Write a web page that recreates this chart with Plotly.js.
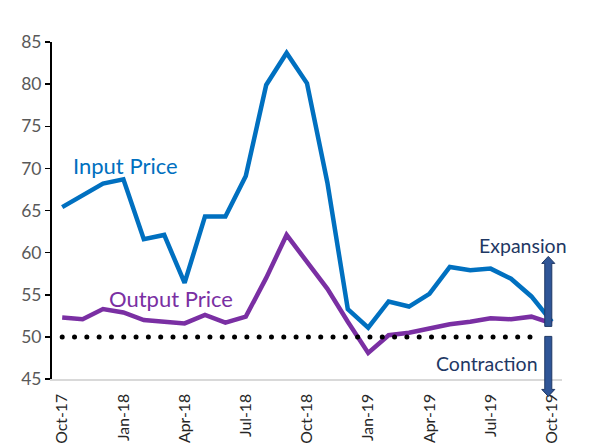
<!DOCTYPE html>
<html>
<head>
<meta charset="utf-8">
<script src="https://cdn.plot.ly/plotly-3.0.1.min.js"></script>
<style>
  html, body { margin: 0; padding: 0; background: #fff; }
  #chart { width: 593px; height: 443px; }
</style>
</head>
<body>
<div id="chart"></div>
<script>
// ---- Data ----
var months = ['Oct-17','Nov-17','Dec-17','Jan-18','Feb-18','Mar-18','Apr-18','May-18','Jun-18','Jul-18','Aug-18','Sep-18',
              'Oct-18','Nov-18','Dec-18','Jan-19','Feb-19','Mar-19','Apr-19','May-19','Jun-19','Jul-19','Aug-19','Sep-19','Oct-19'];
var inputPrice  = [65.4, 66.8, 68.2, 68.7, 61.6, 62.1, 56.4, 64.3, 64.3, 69.1, 79.9, 83.7,
                   80.1, 68.3, 53.3, 51.1, 54.2, 53.6, 55.1, 58.3, 57.9, 58.1, 56.9, 54.8, 51.8];
var outputPrice = [52.3, 52.1, 53.3, 52.9, 52.0, 51.8, 51.6, 52.6, 51.7, 52.4, 57.0, 62.1,
                   58.8, 55.7, 51.8, 48.1, 50.2, 50.5, 51.0, 51.5, 51.8, 52.2, 52.1, 52.4, 51.6];
var tickMonths = ['Oct-17','Jan-18','Apr-18','Jul-18','Oct-18','Jan-19','Apr-19','Jul-19','Oct-19'];
var threshold = 50;

var FONT = 'Lato, "Open Sans", "DejaVu Sans", sans-serif';
var BLUE = '#0070C0', PURPLE = '#7A2FA3', NAVY = '#1F3864';

var traces = [
  { x: months, y: inputPrice, type: 'scatter', mode: 'lines', name: 'Input Price',
    line: { color: BLUE, width: 4.5 }, hoverinfo: 'skip' },
  { x: months, y: outputPrice, type: 'scatter', mode: 'lines', name: 'Output Price',
    line: { color: PURPLE, width: 4.5 }, hoverinfo: 'skip' }
];

// arrow geometry (paper coords)
var ax = 0.9731, sw = 0.0069, hw = 0.0128;
function upArrow(y0, yb, yt) {
  return 'M' + (ax - sw) + ',' + y0 + ' L' + (ax + sw) + ',' + y0 + ' L' + (ax + sw) + ',' + yb +
         ' L' + (ax + hw) + ',' + yb + ' L' + ax + ',' + yt + ' L' + (ax - hw) + ',' + yb +
         ' L' + (ax - sw) + ',' + yb + ' Z';
}

var layout = {
  width: 593, height: 443,
  margin: { l: 52, r: 31, t: 42, b: 64 },
  paper_bgcolor: '#fff', plot_bgcolor: '#fff',
  showlegend: false,
  font: { family: FONT },
  xaxis: {
    type: 'category', categoryorder: 'array', categoryarray: months,
    range: [-0.5, 24.5],
    tickvals: tickMonths, ticktext: tickMonths,
    tickangle: -90, tickfont: { size: 15.8, color: '#262626', family: FONT },
    ticklabelstandoff: 7,
    showline: true, linecolor: '#D9D9D9', linewidth: 1.5,
    ticks: '', showgrid: false, zeroline: false
  },
  yaxis: {
    range: [45, 85], dtick: 5, tick0: 45,
    tickfont: { size: 17.5, color: '#595959', family: FONT },
    ticks: 'outside', ticklen: 5, tickwidth: 1.5, tickcolor: '#000',
    showline: true, linecolor: '#000', linewidth: 2,
    showgrid: false, zeroline: false
  },
  shapes: [
    { type: 'line', xref: 'x', yref: 'y', x0: 0, x1: 23.5, y0: threshold, y1: threshold,
      line: { color: '#000', width: 5, dash: '4px,8.3px' }, layer: 'above' },
    { type: 'path', xref: 'paper', yref: 'paper', path: upArrow(0.1561, 0.343, 0.3638),
      fillcolor: '#2F5597', line: { color: NAVY, width: 1 }, layer: 'above' },
    { type: 'path', xref: 'paper', yref: 'paper', path: upArrow(0.1264, -0.0309, -0.0516),
      fillcolor: '#2F5597', line: { color: NAVY, width: 1 }, layer: 'above' }
  ],
  annotations: [
    { text: 'Input Price', xref: 'paper', yref: 'paper', x: (125.5 - 52) / 510, y: (379.3 - 166) / 337,
      showarrow: false, font: { size: 22, color: BLUE, family: FONT }, xanchor: 'center', yanchor: 'middle' },
    { text: 'Output Price', xref: 'paper', yref: 'paper', x: (171 - 52) / 510, y: (379.3 - 299) / 337,
      showarrow: false, font: { size: 22, color: PURPLE, family: FONT }, xanchor: 'center', yanchor: 'middle' },
    { text: 'Expansion', xref: 'paper', yref: 'paper', x: (523 - 52) / 510, y: (379.3 - 246) / 337,
      showarrow: false, font: { size: 19.5, color: NAVY, family: FONT }, xanchor: 'center', yanchor: 'middle' },
    { text: 'Contraction', xref: 'paper', yref: 'paper', x: (486.5 - 52) / 510, y: (379.3 - 364) / 337,
      showarrow: false, font: { size: 19.5, color: NAVY, family: FONT }, xanchor: 'center', yanchor: 'middle' }
  ]
};

Plotly.newPlot('chart', traces, layout, { staticPlot: true, displayModeBar: false }).then(function () {
  var paths = document.querySelectorAll('.shapelayer path');
  if (paths.length) {
    var p = paths[0];
    p.style.strokeLinecap = 'round';
    p.style.strokeDasharray = '0.01px,12.3px';
  }
});
</script>
</body>
</html>
